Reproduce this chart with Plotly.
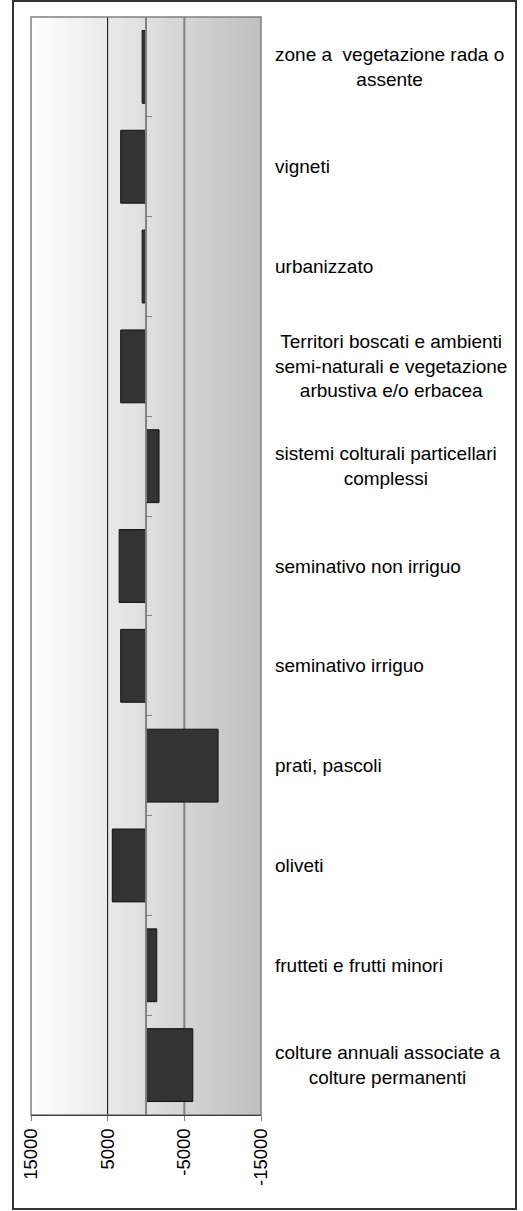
import plotly.graph_objects as go

# --- dati ---
categorie = [
    "zone a  vegetazione rada o<br>assente",
    "vigneti",
    "urbanizzato",
    "Territori boscati e ambienti<br>semi-naturali e vegetazione<br>arbustiva e/o erbacea",
    "sistemi colturali particellari<br>complessi",
    "seminativo non irriguo",
    "seminativo irriguo",
    "prati, pascoli",
    "oliveti",
    "frutteti e frutti minori",
    "colture annuali associate a<br>colture permanenti",
]
valori = [500, 3300, 500, 3300, -1700, 3500, 3300, -9400, 4400, -1400, -6100]
tick_x = [15000, 5000, -5000, -15000]
tick_x_testo = ["15000", "5000", "-5000", "-15000"]

W, H = 523, 1211
ML, MR, MT, MB = 31, 262, 17, 96
FONT = "Liberation Sans, Arial, sans-serif"

fig = go.Figure()
fig.add_trace(go.Bar(
    y=categorie, x=valori, orientation="h",
    marker=dict(color="#333333", line=dict(color="#111111", width=1)),
    showlegend=False, hoverinfo="x+y",
))

shapes = []
# sfondo sfumato (bianco -> grigio); ogni fascia copre fino al bordo destro, niente fessure
n = 80
passo = 30000 / n
for i in range(n):
    g = int(round(255 - (255 - 191) * (i + 0.5) / n))
    shapes.append(dict(type="rect", xref="x", yref="paper",
                       x0=15000 - i * passo, x1=-15000, y0=0, y1=1,
                       fillcolor=f"rgb({g},{g},{g})", line=dict(width=0), layer="below"))
# linee verticali
shapes.append(dict(type="line", xref="x", yref="paper", x0=5000, x1=5000, y0=0, y1=1,
                   line=dict(color="#000000", width=1), layer="below"))
shapes.append(dict(type="line", xref="x", yref="paper", x0=-5000, x1=-5000, y0=0, y1=1,
                   line=dict(color="#808080", width=2), layer="below"))
# bordo area grafico
shapes.append(dict(type="rect", xref="paper", yref="paper", x0=0, x1=1, y0=0, y1=1,
                   line=dict(color="#808080", width=1.5), layer="below"))
# bordo esterno
pw, ph = W - ML - MR, H - MT - MB
shapes.append(dict(type="rect", xref="paper", yref="paper",
                   x0=(13 - ML) / pw, x1=(516 - ML) / pw,
                   y0=(H - MB - 1209) / ph, y1=(H - MB - 1) / ph,
                   line=dict(color="#333333", width=2), layer="below"))

# etichette delle categorie a destra (righe centrate)
annotazioni = []
for c in categorie:
    annotazioni.append(dict(x=1, xref="paper", y=c, yref="y", xanchor="left", yanchor="middle",
                            xshift=12, text=c, align="center", showarrow=False,
                            font=dict(family=FONT, size=19, color="#000000")))

fig.update_layout(
    width=W, height=H,
    margin=dict(l=ML, r=MR, t=MT, b=MB),
    paper_bgcolor="white", plot_bgcolor="rgba(0,0,0,0)",
    bargap=0.27,
    shapes=shapes, annotations=annotazioni,
    font=dict(family=FONT, size=19, color="#000000"),
)
fig.update_xaxes(
    range=[15000, -15000], tickvals=tick_x, ticktext=tick_x_testo,
    tickangle=-90, ticks="outside", ticklen=5, tickcolor="#808080",
    showgrid=False, zeroline=False, showline=True, linecolor="#404040", linewidth=1,
    tickfont=dict(family=FONT, size=18.5, color="#000000"),
)
fig.update_yaxes(
    categoryorder="array", categoryarray=categorie, autorange="reversed",
    anchor="free", position=0.5, side="left",
    showline=True, linecolor="#808080", linewidth=1.5,
    ticks="inside", tickson="boundaries", ticklen=5, tickcolor="#808080",
    showticklabels=False, showgrid=False, zeroline=False,
)

fig.write_html("out.html", config={"displayModeBar": False},
               post_script="document.body.style.margin='0';document.body.style.overflow='hidden';")
